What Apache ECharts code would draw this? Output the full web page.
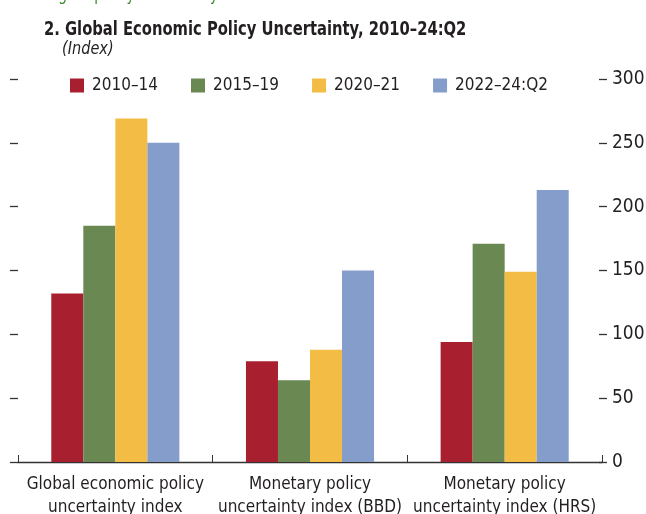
<!DOCTYPE html>
<html>
<head>
<meta charset="utf-8">
<script src="https://cdn.jsdelivr.net/npm/echarts@6/dist/echarts.min.js"></script>
<style>html,body{margin:0;padding:0;background:#fff}#c{width:646px;height:514px}</style>
</head>
<body>
<div id="c"></div>
<script>
const categories = ["Global economic policy\nuncertainty index", "Monetary policy\nuncertainty index (BBD)", "Monetary policy\nuncertainty index (HRS)"];
const seriesNames = ["2010–14", "2015–19", "2020–21", "2022–24:Q2"];
const s2010_14 = [132, 79, 94];
const s2015_19 = [185, 64, 171];
const s2020_21 = [269, 88, 149];
const s2022_24 = [250, 150, 213];
const seriesData = [s2010_14, s2015_19, s2020_21, s2022_24];
const colors = ["#A81F30", "#6A8952", "#F3BC45", "#859DCB"];
const FONT = '"DejaVu Sans Condensed", "Liberation Sans Narrow", "Noto Sans", sans-serif';
const TXT = "#231F20";

const chart = echarts.init(document.getElementById('c'), null, {renderer: 'canvas'});
chart.setOption({
  animation: false,
  textStyle: {fontFamily: FONT, color: TXT},
  graphic: [{
    type: 'text', x: 44, y: -14, scaleX: 0.85,
    style: {text: 'Higher policy uncertainty', fill: '#3F8A2E', font: '18px ' + FONT}
  }, {
    type: 'text', x: 44, y: 20, scaleX: 0.82,
    style: {text: '2. Global Economic Policy Uncertainty, 2010–24:Q2', fill: TXT, font: 'bold 20px ' + FONT}
  }, {
    type: 'text', x: 62, y: 41, scaleX: 0.95,
    style: {text: '(Index)', fill: TXT, font: 'italic 17px ' + FONT}
  }],
  legend: {
    left: 70, top: 77, padding: 0,
    icon: 'rect', itemWidth: 14, itemHeight: 14, itemGap: 33,
    textStyle: {fontFamily: FONT, fontSize: 17, color: TXT, padding: [0, 0, 0, 3]},
    data: seriesNames
  },
  grid: {left: 18, right: 44, top: 79, bottom: 52, containLabel: false, outerBoundsMode: 'none'},
  xAxis: {
    type: 'category', data: categories,
    axisLine: {show: true, lineStyle: {color: '#333', width: 1.3}},
    axisTick: {show: true, inside: true, length: 7, lineStyle: {color: '#333'}},
    axisLabel: {fontFamily: FONT, fontSize: 17, color: TXT, margin: 11, lineHeight: 23, interval: 0}
  },
  yAxis: [{
    type: 'value', min: 0, max: 300, interval: 50, position: 'left',
    axisLine: {show: false},
    axisTick: {show: true, inside: false, length: 8, lineStyle: {color: '#333', width: 1.3}},
    axisLabel: {show: false},
    splitLine: {show: false}
  }, {
    type: 'value', min: 0, max: 300, interval: 50, position: 'right', offset: 5,
    axisLine: {show: false},
    axisTick: {show: true, inside: true, length: 8, lineStyle: {color: '#333', width: 1.3}},
    axisLabel: {fontFamily: FONT, fontSize: 19, color: TXT, margin: 5},
    splitLine: {show: false}
  }],
  series: seriesNames.map((n, i) => ({
    name: n, type: 'bar', data: seriesData[i],
    itemStyle: {color: colors[i]},
    barGap: '0%', barCategoryGap: '34.2%'
  }))
});
</script>
</body>
</html>
